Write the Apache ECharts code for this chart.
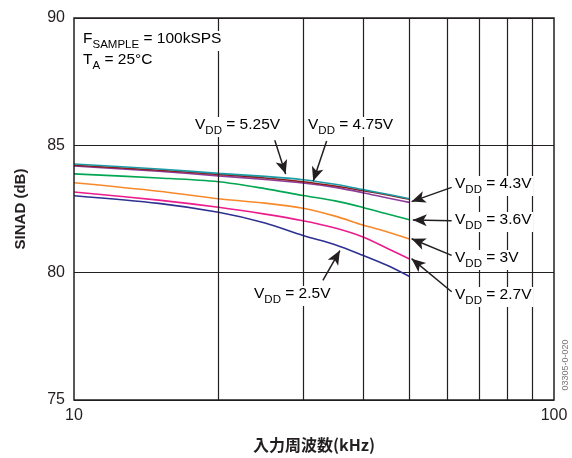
<!DOCTYPE html>
<html lang="ja">
<head>
    <meta charset="UTF-8">
    <title>SINAD vs 入力周波数</title>
    <script src="https://cdn.jsdelivr.net/npm/echarts@6/dist/echarts.min.js"></script>
</head>
<body style="margin:0;">
<div id="chart" style="width: 572px;height: 458px;"></div>
<script>
    // 入力周波数 (kHz)
    var freq = [10, 15, 20, 25, 30, 35, 40, 45, 50];
    // SINAD (dB) for each VDD
    var vdd525 = [84.27, 84.07, 83.90, 83.78, 83.65, 83.47, 83.26, 83.08, 82.90];
    var vdd475 = [84.22, 84.02, 83.86, 83.72, 83.57, 83.40, 83.22, 83.05, 82.88];
    var vdd43  = [84.19, 83.98, 83.80, 83.66, 83.52, 83.35, 83.14, 82.93, 82.76];
    var vdd36  = [83.88, 83.72, 83.57, 83.30, 83.03, 82.82, 82.56, 82.30, 82.08];
    var vdd3   = [83.53, 83.20, 82.90, 82.73, 82.53, 82.22, 81.87, 81.60, 81.32];
    var vdd27  = [83.17, 82.85, 82.57, 82.30, 82.04, 81.75, 81.40, 80.95, 80.54];
    var vdd25  = [83.02, 82.72, 82.37, 81.95, 81.46, 81.10, 80.68, 80.28, 79.85];
    // vertical grid lines of the log axis
    var gridFreqs = [20, 30, 40, 50, 60, 70, 80, 90];

    var curves = [
        {name: '5.25V', data: vdd525, color: '#1c9aa5'},
        {name: '4.75V', data: vdd475, color: '#8c1d1d'},
        {name: '4.3V',  data: vdd43,  color: '#8e3b9c'},
        {name: '3.6V',  data: vdd36,  color: '#00a651'},
        {name: '3V',    data: vdd3,   color: '#f7892b'},
        {name: '2.7V',  data: vdd27,  color: '#ec1c8c'},
        {name: '2.5V',  data: vdd25,  color: '#2e3192'}
    ];
    // draw order: lower ones first, so the top cluster stays visible
    var drawOrder = [6, 5, 4, 3, 2, 1, 0];

    // arrows [from, to] in data coords
    var arrows = [
        [[26.2, 85.2], [27.6, 83.87]],
        [[33.6, 85.17], [31.5, 83.6]],
        [[61.2, 83.35], [50.5, 82.79]],
        [[61.2, 82.04], [50.8, 82.07]],
        [[61.2, 80.68], [50.5, 81.33]],
        [[61.2, 79.25], [50.5, 80.55]],
        [[33.0, 79.7], [35.8, 80.87]]
    ];

    var font = '"Liberation Sans", Arial, sans-serif';
    var rich = {
        m: {fontSize: 15.5, fontFamily: font, lineHeight: 20, verticalAlign: 'top', color: '#231f20'},
        s: {fontSize: 11.5, fontFamily: font, lineHeight: 11, verticalAlign: 'bottom', color: '#231f20'}
    };

    function vddText(v) {
        return '{m|V}{s|DD}{m| = ' + v + '}';
    }

    function label(x, y, text) {
        return {
            type: 'text',
            x: x,
            y: y,
            z: 100,
            style: {
                text: text,
                rich: rich,
                align: 'left',
                verticalAlign: 'middle',
                backgroundColor: '#fff',
                padding: [0, 2, 0, 2]
            }
        };
    }

    var series = [];
    drawOrder.forEach(function (i) {
        var c = curves[i];
        var pts = [];
        for (var k = 0; k < freq.length; k++) {
            pts.push([freq[k], c.data[k]]);
        }
        series.push({
            name: c.name,
            type: 'line',
            data: pts,
            smooth: 0.3,
            showSymbol: false,
            lineStyle: {width: 1.6, color: c.color},
            z: 3
        });
    });

    // grid lines + arrows
    series.push({
        type: 'line',
        data: [],
        silent: true,
        markLine: {
            silent: true,
            symbol: 'none',
            animation: false,
            label: {show: false},
            lineStyle: {color: '#231f20', width: 1.2, type: 'solid'},
            data: gridFreqs.map(function (f) { return {xAxis: f}; })
        },
        z: 1
    });
    series.push({
        type: 'line',
        data: [],
        silent: true,
        markLine: {
            silent: true,
            symbol: ['none', 'arrow'],
            symbolSize: [9, 14],
            animation: false,
            label: {show: false},
            lineStyle: {color: '#231f20', width: 1.5, type: 'solid'},
            data: arrows.map(function (a) {
                return [{coord: a[0]}, {coord: a[1]}];
            })
        },
        z: 200
    });

    var chart = echarts.init(document.getElementById('chart'));
    chart.setOption({
        animation: false,
        backgroundColor: '#fff',
        textStyle: {fontFamily: font},
        grid: {
            left: 74, right: 18, top: 18, bottom: 56,
            show: true,
            borderColor: '#231f20',
            borderWidth: 1.5,
            z: 150
        },
        xAxis: {
            type: 'log',
            logBase: 10,
            min: 10,
            max: 100,
            name: '入力周波数(kHz)',
            nameLocation: 'middle',
            nameGap: 37,
            nameTextStyle: {fontSize: 16, fontWeight: 'bold', color: '#231f20', fontFamily: '"Noto Sans CJK JP", sans-serif'},
            axisLine: {show: false},
            axisTick: {show: false},
            splitLine: {show: false},
            axisLabel: {fontSize: 16, color: '#231f20', margin: 8}
        },
        yAxis: {
            type: 'value',
            min: 75,
            max: 90,
            interval: 5,
            name: 'SINAD (dB)',
            nameLocation: 'middle',
            nameGap: 46,
            nameTextStyle: {fontSize: 15, fontWeight: 'bold', color: '#231f20'},
            axisLine: {show: false},
            axisTick: {show: false},
            splitLine: {show: true, lineStyle: {color: '#231f20', width: 1.2}},
            axisLabel: {fontSize: 16, color: '#231f20', margin: 9}
        },
        series: series,
        graphic: [
            label(193, 127, vddText('5.25V')),
            label(306, 127, vddText('4.75V')),
            label(453, 186, vddText('4.3V')),
            label(453, 222, vddText('3.6V')),
            label(453, 260, vddText('3V')),
            label(453, 297, vddText('2.7V')),
            label(252, 296, vddText('2.5V')),
            label(81, 41, '{m|F}{s|SAMPLE}{m| = 100kSPS}'),
            label(81, 62, '{m|T}{s|A}{m| = 25°C}'),
            {
                type: 'text',
                x: 566,
                y: 365,
                rotation: Math.PI / 2,
                style: {
                    text: '03305-0-020',
                    fontSize: 9,
                    fontFamily: font,
                    fill: '#777',
                    align: 'center',
                    verticalAlign: 'middle'
                }
            }
        ]
    });
</script>
</body>
</html>
